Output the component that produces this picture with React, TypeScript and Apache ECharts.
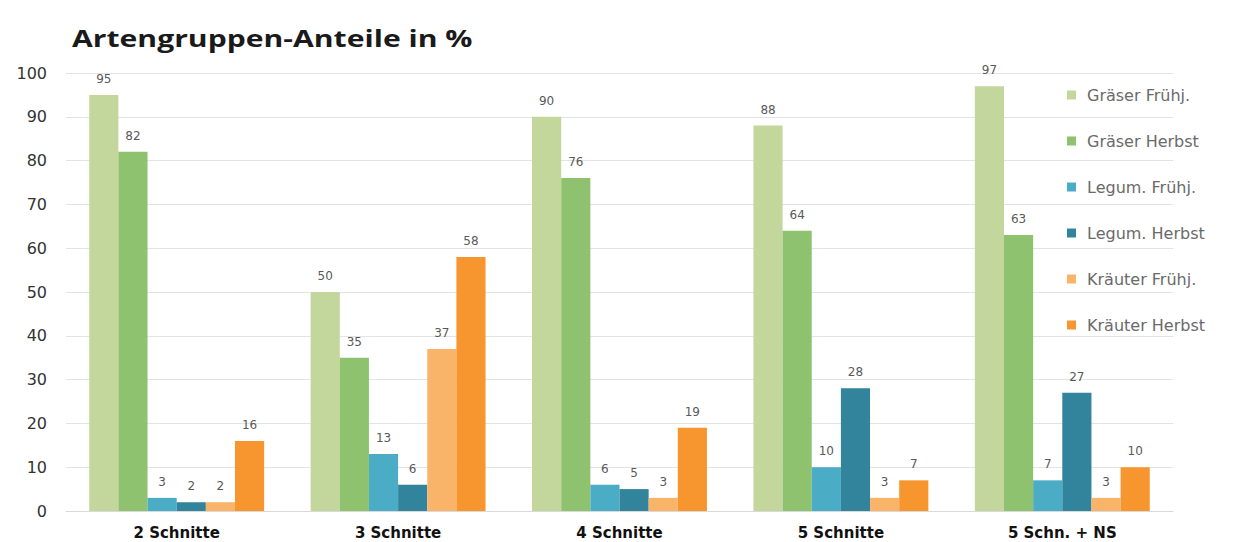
import React, { useEffect, useRef } from "react";
import * as echarts from "echarts";

const categories = ["2 Schnitte", "3 Schnitte", "4 Schnitte", "5 Schnitte", "5 Schn. + NS"];
const seriesNames = ["Gräser Frühj.", "Gräser Herbst", "Legum. Frühj.", "Legum. Herbst", "Kräuter Frühj.", "Kräuter Herbst"];
const graeserFruehj = [95, 50, 90, 88, 97];
const graeserHerbst = [82, 35, 76, 64, 63];
const legumFruehj = [3, 13, 6, 10, 7];
const legumHerbst = [2, 6, 5, 28, 27];
const kraeuterFruehj = [2, 37, 3, 3, 3];
const kraeuterHerbst = [16, 58, 19, 7, 10];
const colors = ["#c3d69b", "#8fc26f", "#4bacc6", "#31849b", "#fab46a", "#f7962e"];
const yTicks = [0, 10, 20, 30, 40, 50, 60, 70, 80, 90, 100];
const titleText = "Artengruppen-Anteile in %";

export default function App() {
  const ref = useRef<HTMLDivElement>(null);
  useEffect(() => {
    if (!ref.current) return;
    const chart = echarts.init(ref.current, null, { renderer: "svg" });
    const data = [graeserFruehj, graeserHerbst, legumFruehj, legumHerbst, kraeuterFruehj, kraeuterHerbst];
    chart.setOption({
      animation: false,
      backgroundColor: "#ffffff",
      color: colors,
      graphic: [
        {
          type: "text",
          x: 72,
          y: 26,
          scaleX: 1.31,
          style: {
            text: titleText,
            fontFamily: "Open Sans",
            fontWeight: "bold",
            fontSize: 23,
            fill: "#1a1a1a",
          },
        },
      ],
      legend: {
        orient: "vertical",
        left: 1067,
        top: 87,
        padding: 0,
        itemWidth: 9,
        itemHeight: 9,
        itemGap: 30,
        icon: "rect",
        textStyle: { fontFamily: "DejaVu Sans", fontSize: 16, color: "#6a6a6a", padding: [0, 0, 0, 6] },
        data: seriesNames,
      },
      grid: { left: 66, right: 63, top: 73, bottom: 31, containLabel: false },
      xAxis: {
        type: "category",
        data: categories,
        axisTick: { show: false },
        axisLine: { show: true, lineStyle: { color: "#d9d9d9", width: 1 } },
        axisLabel: { fontFamily: "DejaVu Sans", fontWeight: "bold", fontSize: 15, color: "#111", margin: 14 },
      },
      yAxis: {
        type: "value",
        min: 0,
        max: 100,
        interval: 10,
        axisLine: { show: false },
        axisTick: { show: false },
        splitLine: { lineStyle: { color: "#e3e3e3", width: 1 } },
        axisLabel: {
          fontFamily: "DejaVu Sans",
          fontSize: 16,
          color: "#333333",
          margin: 19,
          formatter: (v: number) => (yTicks.includes(v) ? String(v) : ""),
        },
      },
      series: seriesNames.map((name, i) => ({
        name,
        type: "bar",
        data: data[i],
        barGap: "0%",
        barCategoryGap: "21%",
        itemStyle: { color: colors[i] },
        label: {
          show: true,
          position: "top",
          distance: 10,
          fontFamily: "DejaVu Sans",
          fontSize: 12,
          color: "#595959",
        },
      })),
    });
    return () => chart.dispose();
  }, []);
  return <div ref={ref} style={{ position: "fixed", left: 0, top: 0, width: 1236, height: 542 }} />;
}
